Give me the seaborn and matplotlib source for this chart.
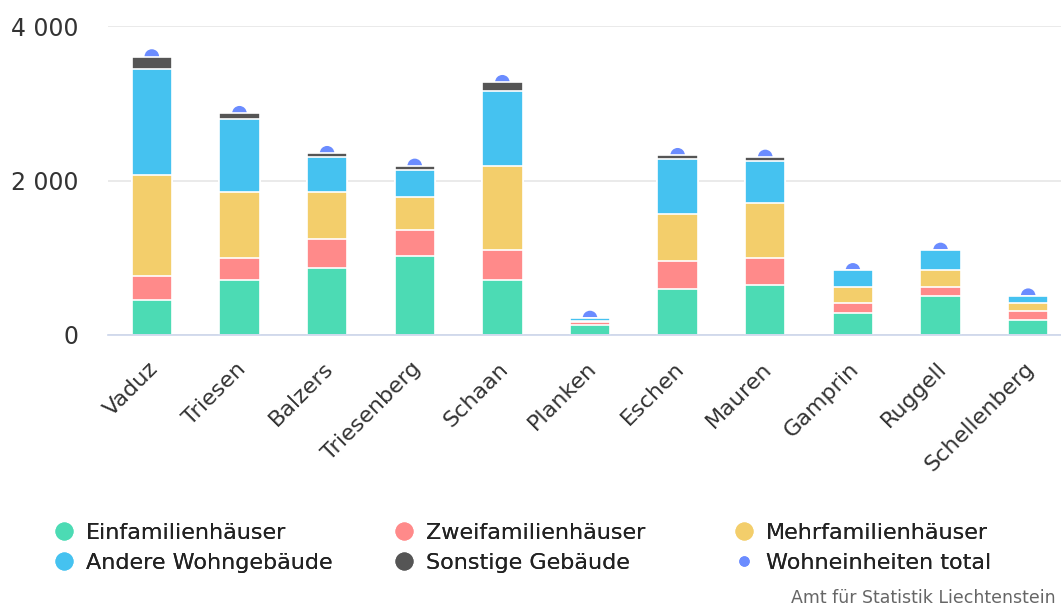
import pandas as pd
import matplotlib.pyplot as plt
from matplotlib.lines import Line2D
from matplotlib.ticker import FuncFormatter
from matplotlib.transforms import ScaledTranslation
import seaborn as sns

# Data
gemeinden = ["Vaduz", "Triesen", "Balzers", "Triesenberg", "Schaan", "Planken",
             "Eschen", "Mauren", "Gamprin", "Ruggell", "Schellenberg"]
einfamilien = [453, 712, 863, 1023, 717, 125, 596, 643, 289, 505, 194]
zweifamilien = [315, 290, 380, 337, 384, 40, 358, 359, 121, 117, 121]
mehrfamilien = [1304, 854, 613, 423, 1092, 20, 617, 712, 216, 215, 99]
andere = [1373, 946, 449, 358, 967, 30, 708, 544, 211, 264, 95]
sonstige = [160, 69, 48, 48, 112, 5, 48, 47, 0, 0, 0]
wohneinheiten_total = [3605, 2871, 2353, 2189, 3272, 220, 2327, 2305, 837, 1101, 509]

series = ["Einfamilienhäuser", "Zweifamilienhäuser", "Mehrfamilienhäuser",
          "Andere Wohngebäude", "Sonstige Gebäude"]
colors = ["#4cdbb4", "#ff8a8a", "#f3ce6b", "#45c2f0", "#555555"]
dot_color = "#6b8cff"

df = pd.DataFrame({
    "Gemeinde": gemeinden,
    series[0]: einfamilien,
    series[1]: zweifamilien,
    series[2]: mehrfamilien,
    series[3]: andere,
    series[4]: sonstige,
})
cum = df[series].cumsum(axis=1)
cum["Gemeinde"] = df["Gemeinde"]
dots = pd.DataFrame({"Gemeinde": gemeinden, "Total": wohneinheiten_total})

sns.set_style("white")
plt.rcParams["font.family"] = ["DejaVu Sans"]

fig = plt.figure(figsize=(10.61, 6.08), dpi=100)
ax = fig.add_axes([108 / 1061, 273 / 608, 964 / 1061, 309 / 608])

# Dots behind the bars (only upper half visible)
sns.scatterplot(data=dots, x="Gemeinde", y="Total", color=dot_color, s=110,
                edgecolor="none", ax=ax, zorder=1, legend=False)

# Stacked bars: draw cumulative totals from top layer down
for name, col in reversed(list(zip(series, colors))):
    sns.barplot(data=cum, x="Gemeinde", y=name, color=col, width=0.46,
                saturation=1, edgecolor="white", linewidth=1.2, ax=ax, zorder=2)

ax.set_xlim(-0.5, len(gemeinden) - 0.5)
ax.set_ylim(0, 4000)
ax.set_yticks([0, 2000, 4000])
ax.yaxis.set_major_formatter(FuncFormatter(lambda v, p: f"{v:,.0f}".replace(",", " ")))
ax.grid(axis="y", color="#e6e6e6", linewidth=1.2, zorder=0)
ax.set_axisbelow(True)
ax.set_xlabel("")
ax.set_ylabel("")
for s in ["top", "right", "left"]:
    ax.spines[s].set_visible(False)
ax.spines["bottom"].set_color("#ccd6eb")
ax.spines["bottom"].set_linewidth(1.2)
ax.tick_params(axis="y", length=0, colors="#333333", labelsize=17, pad=21)
ax.tick_params(axis="x", length=0, colors="#333333", labelsize=16, pad=22)
shift = ScaledTranslation(3 / 100, 0, fig.dpi_scale_trans)
for lbl in ax.get_xticklabels():
    lbl.set_rotation(45)
    lbl.set_ha("right")
    lbl.set_va("center")
    lbl.set_rotation_mode("anchor")
    lbl.set_transform(lbl.get_transform() + shift)

handles = [Line2D([], [], marker="o", linestyle="none", markersize=13,
                  markerfacecolor=c, markeredgecolor="none") for c in colors]
handles.append(Line2D([], [], marker="o", linestyle="none", markersize=7.5,
                      markerfacecolor=dot_color, markeredgecolor="none"))
labels = series + ["Wohneinheiten total"]

# three legend columns at fixed positions
columns = [[0, 3], [1, 4], [2, 5]]
col_x = [44, 384, 724]
for xs, idx in zip(col_x, columns):
    leg = fig.legend([handles[i] for i in idx], [labels[i] for i in idx],
                     loc="upper left", bbox_to_anchor=(xs / 1061, 1 - 514 / 608),
                     ncol=1, frameon=False, fontsize=16, handletextpad=0.5,
                     labelspacing=0.45, handlelength=1.0, labelcolor="#222222",
                     borderaxespad=0)
    fig.add_artist(leg)

fig.text(1056 / 1061, 1 - 598 / 608, "Amt für Statistik Liechtenstein",
         fontsize=12.5, color="#666666", ha="right", va="center")

fig.savefig("out.png", dpi=100)
